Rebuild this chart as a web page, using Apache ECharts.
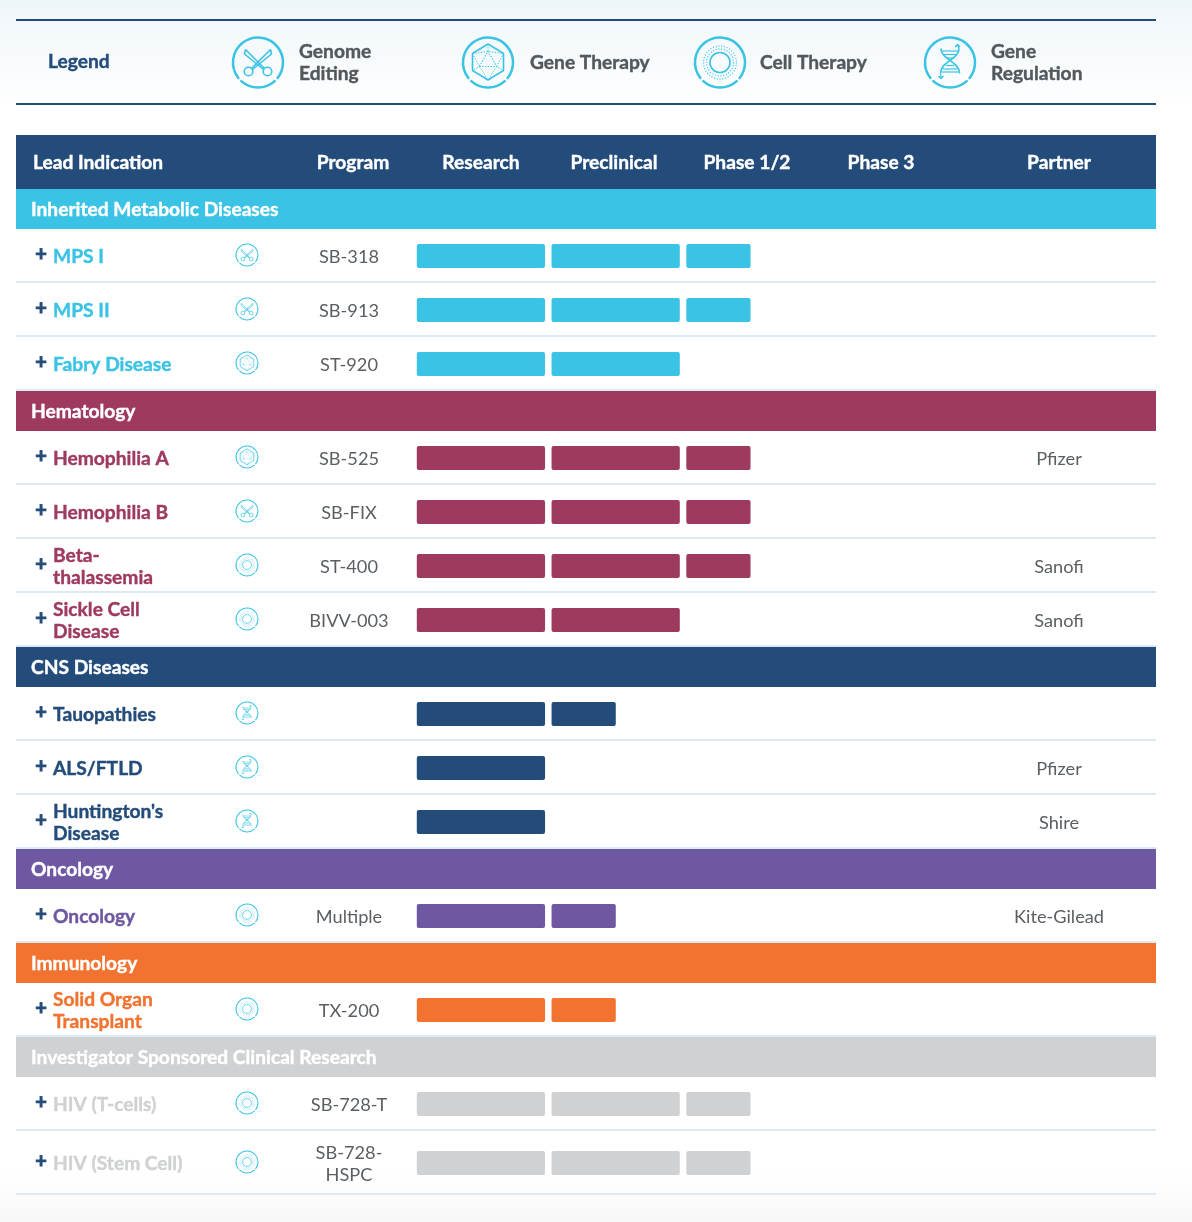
<!DOCTYPE html>
<html><head><meta charset="utf-8">
<style>
html,body{margin:0;padding:0;width:1192px;height:1222px;overflow:hidden;
background:linear-gradient(to bottom,#eff6fa 0,#ffffff 110px,#ffffff 1170px,#f8f8f8 1222px);}
#c{width:1192px;height:1222px;}
</style>
<script src="https://cdn.jsdelivr.net/npm/echarts@6/dist/echarts.min.js"></script>
</head><body><div id="c"></div>
<script>
// ---------- data ----------
var legendTitle = 'Legend';
var legendLabels = ['Genome\nEditing', 'Gene Therapy', 'Cell Therapy', 'Gene\nRegulation'];
var legendIcons = ['scissors', 'hex', 'cell', 'dna'];
var headerLabels = ['Lead Indication', 'Program', 'Research', 'Preclinical', 'Phase 1/2', 'Phase 3', 'Partner'];
var sectionNames = ['Inherited Metabolic Diseases', 'Hematology', 'CNS Diseases', 'Oncology', 'Immunology', 'Investigator Sponsored Clinical Research'];
var rowSection = [0, 0, 0, 1, 1, 1, 1, 2, 2, 2, 3, 4, 5, 5];
var indications = ['MPS I', 'MPS II', 'Fabry Disease', 'Hemophilia A', 'Hemophilia B', 'Beta-\nthalassemia', 'Sickle Cell\nDisease', 'Tauopathies', 'ALS/FTLD', "Huntington's\nDisease", 'Oncology', 'Solid Organ\nTransplant', 'HIV (T-cells)', 'HIV (Stem Cell)'];
var rowIcons = ['scissors', 'scissors', 'hex', 'hex', 'scissors', 'cell', 'cell', 'dna', 'dna', 'dna', 'cell', 'cell', 'cell', 'cell'];
var programs = ['SB-318', 'SB-913', 'ST-920', 'SB-525', 'SB-FIX', 'ST-400', 'BIVV-003', '', '', '', 'Multiple', 'TX-200', 'SB-728-T', 'SB-728-\nHSPC'];
var partners = ['', '', '', 'Pfizer', '', 'Sanofi', 'Sanofi', '', 'Pfizer', 'Shire', 'Kite-Gilead', '', '', ''];
var research = [1, 1, 1, 1, 1, 1, 1, 1, 1, 1, 1, 1, 1, 1];
var preclinical = [1, 1, 1, 1, 1, 1, 1, 0.525, 0, 0, 0.525, 0.525, 1, 1];
var phase12 = [0.525, 0.525, 0, 0.525, 0.525, 0.525, 0, 0, 0, 0, 0, 0, 0.525, 0.525];
var phase3 = [0, 0, 0, 0, 0, 0, 0, 0, 0, 0, 0, 0, 0, 0];
var stages = [research, preclinical, phase12, phase3];

// ---------- style + layout ----------
var sectionColors = ['#3ac3e5', '#9e3a60', '#244c7a', '#6f58a2', '#f27330', '#cfd1d3'];
var NAVY = '#244c7a', CYAN = '#3ac3e5', GREY = '#53585c', BODY = '#5a5f63', RULE = '#dbeaf3';
var FAMILY = 'Lato, "Open Sans", sans-serif';
var BOLD = '700 19.2px ' + FAMILY, REG = '400 18.2px ' + FAMILY;
var L = 16, R = 1156, TABLE_TOP = 135, HEADER_H = 54, SECTION_H = 40, ROW_H = 54, LAST_H = 64;
var headerX = [33, 353, 481, 614, 747, 881, 1059];
var GAP = 6.5, BAR_H = 24;
var legendX = [258, 488, 720, 950];
var legendTextX = [299, 530, 760, 991];

// table rows, in y-axis units measured from top of table
var items = [], y = HEADER_H;
rowSection.forEach(function (s, i) {
  if (i === 0 || rowSection[i - 1] !== s) {
    items.push({ kind: 'section', s: s, top: y, h: SECTION_H });
    y += SECTION_H;
  }
  var h = i === rowSection.length - 1 ? LAST_H : ROW_H;
  items.push({ kind: 'row', i: i, s: s, top: y, h: h });
  y += h;
});
var tableH = y;

function txt(text, x, y, font, fill, align, strokeW) {
  var st = { text: text, x: x, y: y + 1, font: font, fill: fill, align: align || 'left', verticalAlign: 'middle', lineHeight: 22 };
  if (font === BOLD || strokeW) { st.stroke = fill; st.lineWidth = strokeW || 0.4; }
  return { type: 'text', style: st, silent: true };
}
function rect(x, y, w, h, fill, r) {
  return { type: 'rect', shape: { x: x, y: y, width: w, height: h, r: r || 0 }, style: { fill: fill }, silent: true };
}
function lineEl(x1, y1, x2, y2, stroke, w, dash) {
  return { type: 'line', shape: { x1: x1, y1: y1, x2: x2, y2: y2 }, style: { stroke: stroke, lineWidth: w, lineDash: dash || null }, silent: true };
}
function ring(r, w, dash, cx, cy) {
  return { type: 'circle', shape: { cx: cx || 0, cy: cy || 0, r: r }, style: { fill: 'none', stroke: CYAN, lineWidth: w, lineDash: dash || null }, silent: true };
}
function arc(r, a, b, w) {
  return { type: 'arc', shape: { cx: 0, cy: 0, r: r, startAngle: a * Math.PI / 180, endAngle: b * Math.PI / 180, clockwise: true }, style: { fill: 'none', stroke: CYAN, lineWidth: w, lineCap: 'round' }, silent: true };
}
function poly(pts, closed, w, dash) {
  return { type: closed ? 'polygon' : 'polyline', shape: { points: pts }, style: { fill: 'none', stroke: CYAN, lineWidth: w, lineDash: dash || null, lineJoin: 'round' }, silent: true };
}
function curve(x1, y1, c1x, c1y, c2x, c2y, x2, y2, w) {
  return { type: 'bezierCurve', shape: { x1: x1, y1: y1, cpx1: c1x, cpy1: c1y, cpx2: c2x, cpy2: c2y, x2: x2, y2: y2 }, style: { fill: 'none', stroke: CYAN, lineWidth: w }, silent: true };
}
function icon(kind, cx, cy, r, outerW, innerW) {
  var k = [arc(25, 142, 398, outerW), arc(25, 48, 132, outerW)];
  var w = innerW, d = [1.4, 1.4];
  if (kind === 'scissors') {
    k.push(poly([[-12.5, -13], [-13.5, -8.5], [5.5, 7]], false, w), poly([[-12.5, -13], [1, 0.5], [6.5, 6]], false, w));
    k.push(poly([[12.5, -13], [13.5, -8.5], [-5.5, 7]], false, w), poly([[12.5, -13], [-1, 0.5], [-6.5, 6]], false, w));
    k.push(ring(4.3, w, null, -9.5, 9), ring(4.3, w, null, 9.5, 9));
  } else if (kind === 'hex') {
    var hex = [[0, -18.5], [15.5, -9], [15.5, 8], [0, 17.5], [-15.5, 8], [-15.5, -9]];
    k.push(poly(hex, true, w));
    k.push(poly([[-8.7, 4], [8.7, 4], [0, -11]], true, w * 0.7, d));
    k.push(poly([[-15.5, -9], [0, -11], [15.5, -9], [8.7, 4], [15.5, 8]], false, w * 0.6, d));
    k.push(poly([[-15.5, -9], [-8.7, 4], [-15.5, 8]], false, w * 0.6, d));
    k.push(poly([[-8.7, 4], [0, 17.5], [8.7, 4]], false, w * 0.6, d));
    k.push(lineEl(0, -18.5, 0, -11, CYAN, w * 0.6, d));
  } else if (kind === 'cell') {
    k.push(ring(10, w));
    k.push(ring(13.5, w * 0.8, [1, 1.8]));
    k.push(ring(16.5, w * 0.8, [1, 1.8]));
  } else {
    k.push(curve(-9, -14, -9, -3, 9.5, -1, 9.5, 11, w * 1.1), curve(9, -14, 9, -3, -9.5, -1, -9.5, 11, w * 1.1));
    [[-11.5, 8], [-8, 7], [-4.5, 4], [3, 4], [6.5, 7], [9.5, 8]].forEach(function (v) {
      k.push(lineEl(-v[1], v[0], v[1], v[0], CYAN, w * 0.75));
    });
    k.push(lineEl(9, -14, 7.5, -17.5, CYAN, w * 0.8), poly([[5, -15.5], [7.5, -18], [10, -15.5]], false, w * 0.9));
    k.push(lineEl(-9.5, 11, -9, 15, CYAN, w * 0.8), poly([[-11.5, 13.5], [-9, 16], [-6.5, 13.5]], false, w * 0.9));
  }
  return { type: 'group', x: cx, y: cy, scaleX: r / 25, scaleY: r / 25, silent: true, children: k };
}

function renderItem(params, api) {
  var it = items[api.value(0)];
  var c = api.coord([0, it.top]);
  var top = c[1], mid = top + it.h / 2, kids = [];
  var color = sectionColors[it.s];
  if (it.kind === 'section') {
    kids.push(rect(L, top, R - L, it.h, color));
    kids.push(txt(sectionNames[it.s], 31, mid, BOLD, '#ffffff'));
  } else {
    var i = it.i;
    kids.push(rect(L, top + it.h - 2, R - L, 2, RULE));
    kids.push(txt('+', 41, mid - 2, '700 20px ' + FAMILY, NAVY, 'center', 0.9));
    kids.push(txt(indications[i], 53, mid, BOLD, color));
    kids.push(icon(rowIcons[i], 247, mid - 1, 11, 2.4, 1.6));
    if (programs[i]) kids.push(txt(programs[i], 349, mid, REG, BODY, 'center'));
    if (partners[i]) kids.push(txt(partners[i], 1059, mid, REG, BODY, 'center'));
    var unit = api.size([1, 0])[0];
    stages.forEach(function (vals, st) {
      if (!vals[i]) return;
      var p = api.coord([st, it.top]);
      kids.push(rect(p[0], mid - BAR_H / 2, unit * vals[i] - GAP, BAR_H, color, 2));
    });
  }
  return { type: 'group', children: kids };
}

var chrome = [];
chrome.push(rect(L, 19, R - L, 2, NAVY), rect(L, 103, R - L, 2, NAVY));
chrome.push(txt(legendTitle, 48, 61, BOLD, NAVY));
legendLabels.forEach(function (t, i) {
  chrome.push(icon(legendIcons[i], legendX[i], 62.5, 25, 2.5, 1.6));
  chrome.push(txt(t, legendTextX[i], 62, BOLD, GREY));
});
chrome.push(rect(L, TABLE_TOP, R - L, HEADER_H, NAVY));
headerLabels.forEach(function (t, i) {
  chrome.push(txt(t, headerX[i], TABLE_TOP + HEADER_H / 2, BOLD, '#ffffff', i === 0 ? 'left' : 'center'));
});

var chart = echarts.init(document.getElementById('c'), null, { renderer: 'canvas' });
chart.setOption({
  animation: false,
  backgroundColor: 'transparent',
  tooltip: { show: false },
  grid: { left: 416.8, width: 539, top: TABLE_TOP, height: tableH, containLabel: false },
  xAxis: { type: 'value', min: 0, max: 4, show: false },
  yAxis: { type: 'value', min: 0, max: tableH, inverse: true, show: false },
  graphic: { elements: chrome },
  series: [{
    type: 'custom',
    coordinateSystem: 'cartesian2d',
    clip: false,
    silent: true,
    renderItem: renderItem,
    data: items.map(function (_, i) { return [i]; }),
    encode: { x: [], y: [] }
  }]
});
</script></body></html>
